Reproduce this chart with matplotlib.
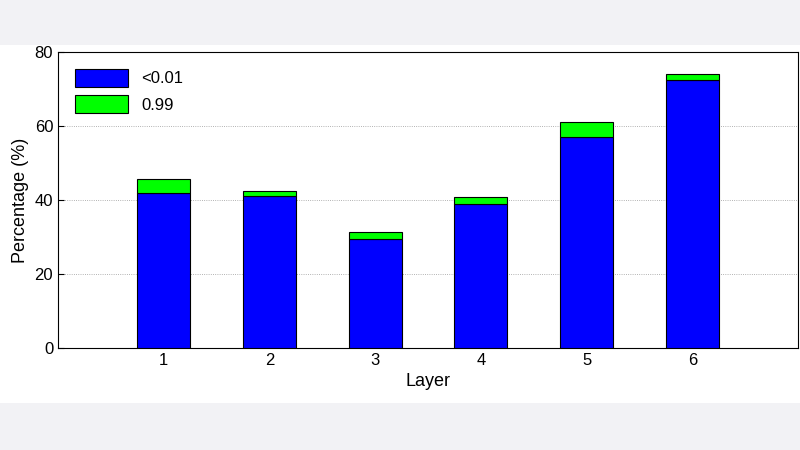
import matplotlib.pyplot as plt
from matplotlib.patches import Rectangle

layers = [1, 2, 3, 4, 5, 6]
low_vals = [41.9, 41.1, 29.5, 38.9, 57.0, 72.4]
high_vals = [3.8, 1.3, 1.9, 1.9, 4.0, 1.6]

plt.rcParams['font.family'] = ['Liberation Sans', 'DejaVu Sans']

fig = plt.figure(figsize=(8, 4.5), dpi=100, facecolor='#f2f2f5')
# white panel behind the chart
fig.patches.append(Rectangle((0, 47 / 450), 1, 358 / 450, transform=fig.transFigure,
                             facecolor='white', edgecolor='none', zorder=-10))

ax = fig.add_axes([58 / 800, 1 - 348 / 450, 740 / 800, 296 / 450])
ax.set_zorder(5)
ax.bar(layers, low_vals, width=0.5, color='#0000ff', edgecolor='black',
       linewidth=0.8, label='<0.01', zorder=3)
ax.bar(layers, high_vals, width=0.5, bottom=low_vals, color='#00ff00',
       edgecolor='black', linewidth=0.8, label='0.99', zorder=3)

ax.set_xlim(0, 7)
ax.set_ylim(0, 80)
ax.set_xticks(layers)
ax.set_yticks([0, 20, 40, 60, 80])
ax.yaxis.grid(True, linestyle=':', color='#999999', linewidth=0.6, zorder=0)
ax.tick_params(labelsize=12, direction='in', length=4)
ax.set_xlabel('Layer', fontsize=13)
ax.set_ylabel('Percentage (%)', fontsize=13)

ax.legend(loc='upper left', fontsize=12, frameon=False, handlelength=3.2,
          handleheight=1.3, borderaxespad=0.6)

fig.savefig('out.png', dpi=100, facecolor=fig.get_facecolor())
